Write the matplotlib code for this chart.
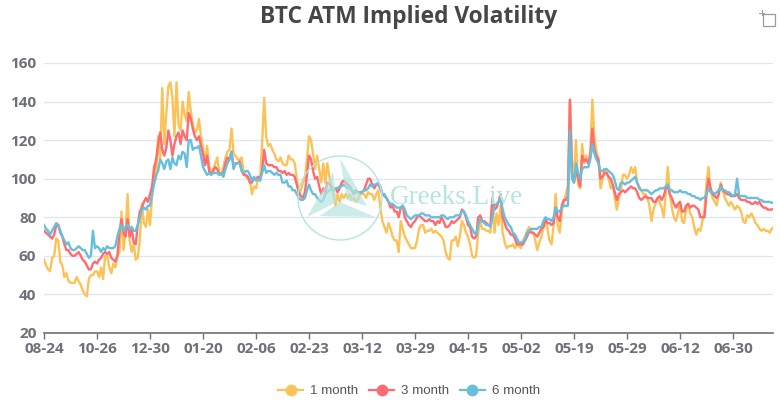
import matplotlib
matplotlib.use('Agg')
import matplotlib.pyplot as plt
from matplotlib.lines import Line2D
from matplotlib.patches import Circle, Polygon, Rectangle

tick_labels = ['08-24', '10-26', '12-30', '01-20', '02-06', '02-23', '03-12',
               '03-29', '04-15', '05-02', '05-19', '05-29', '06-12', '06-30']
tick_step = 26

# one row per tick interval
month1 = [58, 55, 53, 52, 59, 60, 69, 68, 57, 55, 49, 51, 47, 46, 46, 46, 49, 47, 45, 42, 40, 39, 48, 50, 50, 52,
          52, 49, 54, 48, 60, 60, 54, 51, 56, 54, 60, 62, 83, 63, 72, 92, 68, 62, 66, 58, 59, 68, 87, 77, 75, 84,
          76, 90, 107, 100, 122, 110, 147, 118, 134, 148, 150, 142, 122, 150, 128, 125, 140, 133, 130, 145, 135, 128, 124, 125, 131, 122,
          116, 108, 117, 107, 103, 105, 108, 111, 103, 102, 106, 111, 114, 115, 126, 113, 112, 110, 110, 111, 103, 101, 100, 99, 92, 96,
          95, 100, 99, 118, 142, 122, 117, 118, 115, 113, 110, 109, 111, 108, 107, 107, 112, 110, 110, 108, 100, 92, 94, 98, 100, 110,
          122, 120, 113, 105, 112, 105, 98, 108, 98, 108, 101, 96, 92, 86, 92, 88, 92, 90, 92, 90, 92, 89, 90, 88, 89, 92,
          92, 92, 90, 93, 92, 92, 89, 92, 94, 85, 78, 75, 72, 77, 74, 70, 68, 68, 62, 78, 74, 70, 68, 66, 64, 64,
          64, 68, 74, 76, 76, 72, 73, 73, 74, 72, 73, 72, 71, 70, 68, 62, 59, 58, 68, 68, 70, 65, 70, 78, 76, 72,
          70, 66, 60, 59, 60, 72, 78, 74, 74, 73, 73, 72, 88, 72, 82, 76, 86, 72, 67, 64, 65, 65, 66, 64, 66, 65,
          64, 68, 70, 73, 75, 73, 72, 68, 63, 67, 70, 74, 79, 74, 68, 66, 76, 92, 76, 72, 83, 88, 92, 96, 141, 110,
          99, 120, 97, 95, 118, 108, 112, 108, 114, 141, 122, 114, 110, 95, 100, 105, 103, 100, 95, 97, 90, 84, 90, 94, 102, 102,
          100, 102, 106, 103, 106, 98, 96, 94, 92, 92, 90, 86, 78, 84, 87, 90, 88, 85, 80, 92, 106, 92, 85, 80, 78, 82,
          88, 78, 77, 84, 87, 82, 80, 75, 71, 74, 73, 78, 84, 98, 106, 94, 90, 88, 86, 92, 98, 94, 90, 88, 86, 88,
          86, 84, 86, 85, 83, 78, 77, 81, 80, 82, 80, 77, 76, 74, 73, 74, 73, 73, 72, 74, 75, 75]
month3 = [73, 72, 71, 70, 69, 71, 76, 76, 72, 70, 66, 63, 63, 61, 60, 60, 61, 62, 60, 58, 57, 55, 53, 53, 56, 57,
          56, 58, 59, 61, 62, 61, 62, 59, 58, 57, 60, 72, 79, 72, 70, 79, 70, 74, 67, 66, 76, 83, 85, 88, 90, 88,
          92, 96, 105, 110, 118, 124, 115, 112, 116, 125, 120, 112, 118, 122, 124, 118, 125, 122, 120, 134, 131, 126, 122, 120, 122, 117,
          113, 107, 112, 104, 102, 104, 106, 105, 102, 103, 103, 108, 111, 110, 114, 106, 108, 108, 109, 104, 102, 102, 101, 98, 98, 100,
          100, 101, 100, 104, 115, 108, 107, 107, 107, 106, 106, 104, 104, 103, 104, 102, 103, 102, 102, 101, 97, 93, 91, 90, 93, 102,
          112, 110, 104, 100, 101, 96, 92, 95, 93, 98, 97, 96, 94, 95, 93, 95, 98, 99, 98, 97, 96, 94, 92, 94, 93, 93,
          93, 94, 97, 100, 100, 97, 95, 97, 97, 95, 92, 91, 90, 88, 85, 86, 83, 83, 80, 85, 86, 80, 78, 76, 75, 77,
          78, 80, 81, 80, 79, 78, 78, 79, 78, 78, 76, 78, 77, 80, 78, 75, 75, 76, 78, 77, 78, 79, 80, 84, 83, 80,
          76, 75, 70, 69, 70, 80, 81, 78, 78, 77, 76, 76, 90, 84, 85, 88, 92, 80, 77, 74, 73, 71, 71, 69, 66, 66,
          66, 66, 68, 70, 73, 72, 72, 71, 70, 72, 74, 75, 79, 77, 77, 76, 77, 85, 80, 78, 86, 89, 89, 91, 141, 103,
          98, 105, 100, 96, 112, 109, 110, 108, 112, 126, 115, 112, 110, 100, 101, 103, 103, 101, 100, 97, 93, 89, 92, 93, 94, 93,
          94, 95, 96, 95, 95, 93, 90, 89, 90, 91, 90, 90, 90, 88, 88, 90, 91, 89, 91, 95, 96, 92, 90, 87, 85, 87,
          88, 83, 83, 86, 87, 85, 86, 86, 85, 84, 80, 80, 80, 92, 100, 95, 92, 91, 90, 92, 97, 94, 93, 92, 92, 91,
          91, 91, 92, 90, 89, 89, 89, 88, 88, 87, 87, 88, 87, 88, 86, 85, 85, 84, 84, 84, 84.5, 84.5]
month6 = [76, 74, 73, 71, 73, 75, 77, 76, 73, 70, 68, 66, 67, 64, 63, 63, 64, 65, 64, 63, 63, 61, 59, 60, 73, 64,
          65, 64, 62, 64, 63, 65, 64, 64, 64, 65, 70, 74, 76, 73, 75, 76, 74, 75, 73, 73, 76, 80, 84, 85, 84, 86,
          86, 92, 97, 102, 104, 110, 108, 105, 109, 110, 105, 111, 108, 107, 112, 110, 114, 113, 106, 120, 120, 115, 116, 116, 117, 112,
          106, 104, 102, 103, 102, 103, 103, 103, 102, 103, 101, 105, 108, 110, 114, 105, 108, 108, 108, 104, 103, 104, 104, 102, 99, 101,
          99, 100, 99, 103, 107, 103, 104, 104, 103, 102, 103, 102, 102, 98, 98, 99, 96, 96, 94, 94, 92, 90, 89, 89, 90, 94,
          97, 94, 92, 92, 90, 89, 88, 89, 92, 93, 94, 95, 94, 95, 95, 96, 96, 97, 96, 95, 95, 94, 93, 93, 93, 93,
          93, 94, 94, 95, 97, 96, 97, 97, 98, 96, 92, 92, 90, 88, 87, 87, 86, 85, 85, 85, 86, 84, 81, 80, 79, 80,
          81, 81, 81, 82, 82, 81, 81, 81, 80, 80, 80, 80, 80, 81, 81, 80, 79, 80, 80, 80, 81, 81, 81, 83, 83, 81,
          78, 76, 74, 72, 71, 76, 79, 78, 77, 76, 76, 75, 80, 86, 87, 88, 90, 84, 80, 78, 76, 75, 72, 71, 69, 67,
          67, 67, 69, 72, 73, 74, 74, 74, 74, 75, 75, 78, 80, 79, 79, 78, 80, 85, 83, 83, 85, 86, 86, 86, 125, 100,
          98, 108, 103, 100, 105, 106, 106, 106, 110, 118, 113, 110, 108, 104, 104, 105, 105, 104, 103, 102, 99, 95, 94, 98, 98, 97,
          98, 98, 99, 100, 101, 98, 95, 94, 94, 94, 94, 93, 92, 93, 94, 94, 95, 95, 95, 96, 97, 94, 94, 93, 93, 93,
          94, 93, 93, 93, 92, 92, 91, 91, 90, 90, 89, 90, 90, 92, 95, 93, 93, 92, 93, 94, 96, 94, 94, 93, 93, 92,
          91, 92, 100, 91, 91, 91, 91, 90, 90, 90, 90, 90, 90, 89, 89, 88, 88, 88, 88, 87.5, 87.5, 87.5]

YELLOW = '#FBC357'
RED = '#FF6B70'
BLUE = '#67BFDD'
GREY = '#6E7079'
TEAL = '#B5E5DF'

W, H = 780, 409
plt.rcParams['font.family'] = ['Open Sans', 'DejaVu Sans']
fig = plt.figure(figsize=(7.8, 4.09), dpi=100)

# plot area from the reference, in pixels
ax = fig.add_axes([44 / W, (H - 333) / H, 729 / W, 270 / H])
ax.set_xlim(0, 729 / (53 / tick_step))
ax.set_ylim(20, 160)
ax.set_facecolor('none')

ax.plot(range(len(month1)), month1, color=YELLOW, lw=1.7, zorder=3, solid_joinstyle='round')
ax.plot(range(len(month3)), month3, color=RED, lw=1.7, zorder=4, solid_joinstyle='round')
ax.plot(range(len(month6)), month6, color=BLUE, lw=1.7, zorder=5, solid_joinstyle='round')

ax.set_yticks(range(20, 161, 20))
ax.set_xticks([i * tick_step for i in range(len(tick_labels))])
ax.set_xticklabels(tick_labels)
ax.grid(axis='y', color='#E0E6F1', lw=1)
ax.set_axisbelow(True)
for s in ['top', 'right', 'left']:
    ax.spines[s].set_visible(False)
ax.spines['bottom'].set_color(GREY)
ax.spines['bottom'].set_linewidth(1.2)
ax.tick_params(axis='y', length=0, pad=5.5, labelcolor=GREY, labelsize=11)
ax.tick_params(axis='x', length=4, width=1, color=GREY, pad=2.5, labelcolor=GREY, labelsize=11)
for t in ax.get_xticklabels() + ax.get_yticklabels():
    t.set_fontweight('bold')

fig.text(409 / W, 1 - 17 / H, 'BTC ATM Implied Volatility', ha='center', va='center',
         fontsize=16.4, fontweight='bold', color='#464646')

# watermark
over = fig.add_axes([0, 0, 1, 1], zorder=10)
over.set_xlim(0, W)
over.set_ylim(H, 0)
over.axis('off')
over.add_patch(Circle((340, 198), 42, fill=False, ec=TEAL, lw=1))
over.add_patch(Polygon([(307, 217), (333, 172), (337, 202)], fc=TEAL, ec='none', alpha=0.7))
over.add_patch(Polygon([(340, 158), (367, 206), (347, 200)], fc=TEAL, ec='none', alpha=0.7))
over.add_patch(Polygon([(320, 216), (340, 202), (375, 217)], fc=TEAL, ec='none', alpha=0.7))
over.text(390, 197, 'Greeks.Live', family='Liberation Serif', fontsize=19.5,
          color=TEAL, va='center', ha='left')

# crop icon top right
over.add_patch(Rectangle((763, 14), 12, 12, fill=False, ec='#9a9a9a', lw=0.9))
over.add_patch(Rectangle((759, 13), 6, 1, fc='#9a9a9a', ec='none'))
over.add_patch(Rectangle((762, 10), 1, 6, fc='#9a9a9a', ec='none'))

handles = [Line2D([], [], color=c, lw=1.6, marker='o', ms=7.5, mfc=c, mec=c)
           for c in [YELLOW, RED, BLUE]]
fig.legend(handles, ['1 month', '3 month', '6 month'], loc='center',
           bbox_to_anchor=(409 / W, 1 - 391 / H), ncol=3, frameon=False,
           labelcolor='#555555', handlelength=1.9, columnspacing=0.8,
           handletextpad=0.5, prop={'family': 'Liberation Sans', 'size': 9.6})

fig.savefig('out.png', dpi=100)
